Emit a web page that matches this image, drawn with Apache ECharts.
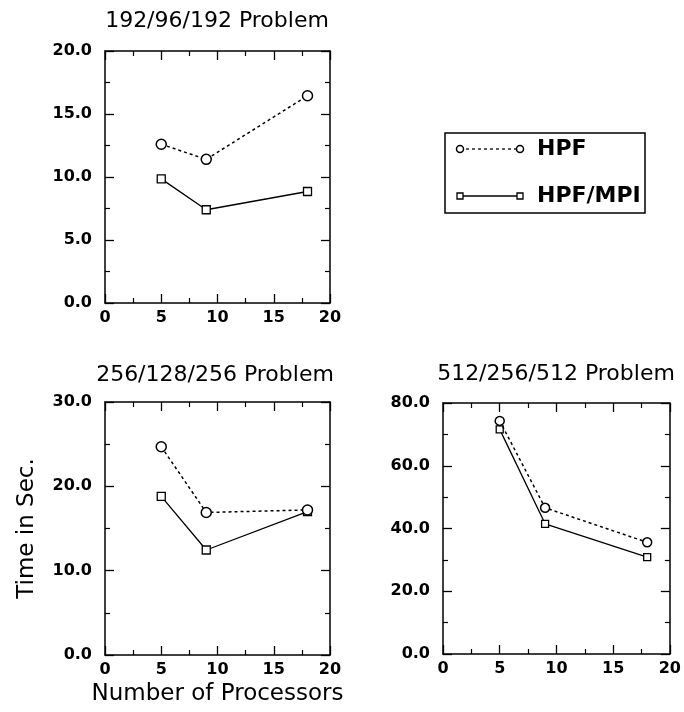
<!DOCTYPE html>
<html>
<head>
<meta charset="utf-8">
<title>HPF vs HPF/MPI timings</title>
<script src="https://cdn.jsdelivr.net/npm/echarts@6/dist/echarts.min.js"></script>
<style>
  html, body { margin: 0; padding: 0; background: #fff; }
  #chart { width: 684px; height: 712px; }
</style>
</head>
<body>
<div id="chart"></div>
<script>
// number of processors (x values shared by every panel)
const procs = [5, 9, 18];

// 192/96/192 problem
const hpf192 = [12.6, 11.4, 16.45];
const mpi192 = [9.85, 7.4, 8.85];
// 256/128/256 problem
const hpf256 = [24.7, 16.9, 17.2];
const mpi256 = [18.8, 12.45, 17.0];
// 512/256/512 problem
const hpf512 = [74.3, 46.6, 35.6];
const mpi512 = [71.6, 41.5, 30.9];

const panelTitles = ['192/96/192 Problem', '256/128/256 Problem', '512/256/512 Problem'];
const yMax = [20, 30, 80];
const yStep = [5, 10, 20];
const xTicks = [0, 5, 10, 15, 20];

const FONT = 'DejaVu Sans';

function pairs(ys) {
  return procs.map((p, i) => [p, ys[i]]);
}

const grids = [
  { left: 105, top: 51, width: 225, height: 252 },
  { left: 105, top: 402, width: 225, height: 253 },
  { left: 443, top: 403, width: 228, height: 251 }
];

const axisLine = { show: true, onZero: false, lineStyle: { color: '#000', width: 1.5 } };
const tick = { show: true, inside: true, length: 9, lineStyle: { color: '#000', width: 1.3 } };
const minor = { show: true, splitNumber: 2, length: 5, lineStyle: { color: '#000', width: 1.2 } };
const labelStyle = { color: '#000', fontFamily: FONT, fontWeight: 'bold', fontSize: 16 };

let xAxis = [], yAxis = [];
grids.forEach((g, i) => {
  ['bottom', 'top'].forEach(pos => {
    xAxis.push({
      type: 'value', gridIndex: i, position: pos,
      min: xTicks[0], max: xTicks[xTicks.length - 1], interval: 5,
      axisLine: axisLine, axisTick: tick, minorTick: minor,
      splitLine: { show: false },
      axisLabel: pos === 'bottom' ? Object.assign({ margin: 7 }, labelStyle) : { show: false },
      name: (i === 1 && pos === 'bottom') ? 'Number of Processors' : '',
      nameLocation: 'middle', nameGap: 28,
      nameTextStyle: { color: '#000', fontFamily: FONT, fontSize: 23 }
    });
  });
  ['left', 'right'].forEach(pos => {
    yAxis.push({
      type: 'value', gridIndex: i, position: pos,
      min: 0, max: yMax[i], interval: yStep[i],
      axisLine: axisLine, axisTick: tick, minorTick: minor,
      splitLine: { show: false },
      axisLabel: pos === 'left'
        ? Object.assign({ margin: 13, formatter: v => v.toFixed(1) }, labelStyle)
        : { show: false },
      name: (i === 1 && pos === 'left') ? 'Time in Sec.' : '',
      nameLocation: 'middle', nameRotate: 90, nameGap: 66,
      nameTextStyle: { color: '#000', fontFamily: FONT, fontSize: 23 }
    });
  });
});

function hpfSeries(ys, i, size) {
  return {
    name: 'HPF', type: 'line', data: pairs(ys),
    xAxisIndex: i * 2, yAxisIndex: i * 2,
    symbol: 'circle', symbolSize: size,
    lineStyle: { color: '#000', width: 1.5, type: [3, 3] },
    itemStyle: { color: '#fff', borderColor: '#000', borderWidth: 1.5 },
    z: 3, animation: false
  };
}
function mpiSeries(ys, i, size) {
  return {
    name: 'HPF/MPI', type: 'line', data: pairs(ys),
    xAxisIndex: i * 2, yAxisIndex: i * 2,
    symbol: 'rect', symbolSize: size,
    lineStyle: { color: '#000', width: 1.3 },
    itemStyle: { color: '#fff', borderColor: '#000', borderWidth: 1.3 },
    z: 2, animation: false
  };
}

const titleCenters = [[217, 21], [215, 375], [556, 374]];

const graphic = titleCenters.map((c, i) => ({
  type: 'text', x: c[0], y: c[1],
  style: { text: panelTitles[i], fill: '#000', font: '22px "' + FONT + '"', align: 'center', verticalAlign: 'middle' }
}));

// legend box
graphic.push({
  type: 'group', children: [
    { type: 'rect', shape: { x: 445, y: 133, width: 200, height: 80 }, style: { fill: '#fff', stroke: '#000', lineWidth: 1.5 } },
    { type: 'line', shape: { x1: 460, y1: 149, x2: 520, y2: 149 }, style: { stroke: '#000', lineWidth: 1.3, lineDash: [3, 3] } },
    { type: 'circle', shape: { cx: 460, cy: 149, r: 3.5 }, style: { fill: '#fff', stroke: '#000', lineWidth: 1.5 } },
    { type: 'circle', shape: { cx: 520, cy: 149, r: 3.5 }, style: { fill: '#fff', stroke: '#000', lineWidth: 1.5 } },
    { type: 'text', x: 537, y: 149, style: { text: 'HPF', fill: '#000', font: 'bold 22px "' + FONT + '"', verticalAlign: 'middle' } },
    { type: 'line', shape: { x1: 460, y1: 196, x2: 520, y2: 196 }, style: { stroke: '#000', lineWidth: 1.3 } },
    { type: 'rect', shape: { x: 457, y: 193, width: 6, height: 6 }, style: { fill: '#fff', stroke: '#000', lineWidth: 1.3 } },
    { type: 'rect', shape: { x: 517, y: 193, width: 6, height: 6 }, style: { fill: '#fff', stroke: '#000', lineWidth: 1.3 } },
    { type: 'text', x: 537, y: 196, style: { text: 'HPF/MPI', fill: '#000', font: 'bold 22px "' + FONT + '"', verticalAlign: 'middle' } }
  ]
});

const chart = echarts.init(document.getElementById('chart'));
chart.setOption({
  backgroundColor: '#fff',
  animation: false,
  grid: grids,
  xAxis: xAxis,
  yAxis: yAxis,
  series: [
    hpfSeries(hpf192, 0, 10), mpiSeries(mpi192, 0, 8),
    hpfSeries(hpf256, 1, 10), mpiSeries(mpi256, 1, 8),
    hpfSeries(hpf512, 2, 9), mpiSeries(mpi512, 2, 7)
  ],
  graphic: graphic
});
</script>
</body>
</html>
